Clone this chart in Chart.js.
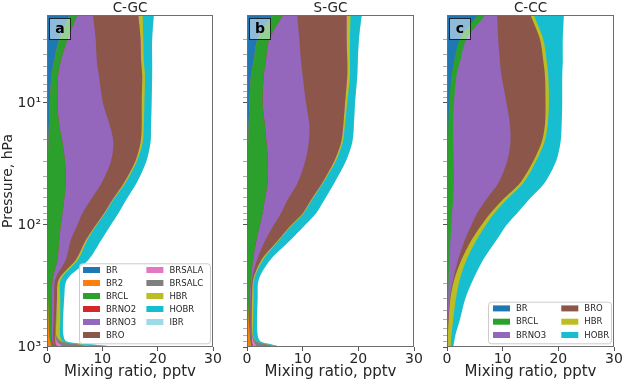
<!DOCTYPE html>
<html>
<head>
<meta charset="utf-8">
<script src="https://cdn.jsdelivr.net/npm/chart.js@4.4.1/dist/chart.umd.min.js"></script>
<style>
  body { margin: 0; background: #fff; }
  #wrap { position: relative; width: 623px; height: 381px; }
  canvas { position: absolute; top: 0; }
</style>
</head>
<body>
<div id="wrap">
  <canvas id="panelA" width="224" height="381" style="left:0px"></canvas>
  <canvas id="panelB" width="200" height="381" style="left:224px"></canvas>
  <canvas id="panelC" width="199" height="381" style="left:424px"></canvas>
</div>
<script>
// pressure levels (hPa), shared by all panels
const levels = [1.9, 3, 4.5, 6, 10, 15, 21, 30, 45, 62, 80, 100, 133, 193, 280, 400, 600, 800, 900, 950, 1000];

const speciesGC = ["BR", "BR2", "BRCL", "BRNO2", "BRNO3", "BRO", "BRSALA", "BRSALC", "HBR", "HOBR", "IBR"];
const speciesCC = ["BR", "BRCL", "BRNO3", "BRO", "HBR", "HOBR"];

const colors = {
  BR: "#1f77b4", BR2: "#ff7f0e", BRCL: "#2ca02c", BRNO2: "#d62728", BRNO3: "#9467bd",
  BRO: "#8c564b", BRSALA: "#e377c2", BRSALC: "#7f7f7f", HBR: "#bcbd22", HOBR: "#17becf", IBR: "#9edae5"
};

// panel a : C-GC (pptv)
const brA     = [4.1, 2.2, 1.3, 0.8, 0.5, 0.35, 0.25, 0.15, 0.1, 0.05, 0.03, 0.02, 0, 0, 0, 0, 0, 0, 0, 0, 0];
const br2A    = [0, 0, 0, 0, 0, 0, 0, 0, 0, 0, 0, 0, 0, 0, 0.1, 0.2, 0.3, 0.4, 0.6, 0.7, 0.8];
const brclA   = [1.4, 1.5, 1.2, 1.2, 1.4, 1.85, 2.55, 3.1, 3.3, 3.05, 2.77, 2.48, 2.2, 1.9, 0.9, 0.7, 0.5, 0.4, 0.3, 0.3, 0.5];
const brno2A  = [0, 0, 0, 0, 0, 0, 0, 0, 0, 0, 0, 0, 0, 0, 0, 0, 0, 0, 0.1, 0.1, 0.2];
const brno3A  = [2.8, 5.1, 6.5, 7.4, 8.2, 9.1, 9.2, 8.3, 6.5, 4.8, 3.6, 3.0, 2.1, 1.5, 0.5, 0.4, 0.4, 0.3, 0.2, 0.2, 0.2];
const broA    = [8.2, 8.1, 8.0, 7.8, 7.0, 5.8, 4.9, 4.4, 4.0, 3.9, 3.9, 3.3, 2.7, 1.8, 0.6, 0.5, 0.4, 0.4, 0.3, 0.3, 0.3];
const brsalaA = [0, 0, 0, 0, 0, 0, 0, 0, 0, 0, 0, 0, 0, 0, 0, 0, 0, 0.05, 0.3, 0.8, 0.8];
const brsalcA = [0, 0, 0, 0, 0, 0, 0, 0, 0, 0, 0, 0, 0, 0, 0, 0, 0.1, 0.1, 0.8, 3.1, 5.2];
const hbrA    = [0.8, 0.5, 0.5, 0.5, 0.5, 0.4, 0.4, 0.3, 0.3, 0.2, 0.2, 0.2, 0.3, 0.4, 0.4, 0.6, 0.7, 0.7, 0.3, 0.5, 0.6];
const hobrA   = [2.0, 1.6, 1.5, 1.3, 1.3, 1.3, 1.4, 1.7, 2.0, 2.3, 2.4, 2.5, 2.5, 1.9, 1.1, 0.7, 0.5, 0.6, 0.6, 2.0, 3.7];
const ibrA    = [0, 0, 0, 0, 0, 0, 0, 0, 0, 0, 0, 0, 0, 0, 0, 0, 0, 0, 0.1, 0.2, 0.3];

// panel b : S-GC
const brB     = [4.6, 1.9, 1.2, 0.7, 0.45, 0.3, 0.2, 0.15, 0.1, 0.05, 0.03, 0.02, 0, 0, 0, 0, 0, 0, 0, 0, 0];
const br2B    = [0, 0, 0, 0, 0, 0, 0, 0, 0, 0, 0, 0, 0, 0, 0, 0.15, 0.3, 0.5, 0.6, 0.7, 0.8];
const brclB   = [1.9, 2.1, 2.2, 2.3, 2.35, 2.9, 3.3, 3.6, 3.6, 3.15, 2.77, 2.3, 1.7, 1.1, 0.7, 0.35, 0.2, 0.1, 0.1, 0.1, 0.1];
const brno2B  = [0, 0, 0, 0, 0, 0, 0, 0, 0, 0, 0, 0, 0, 0, 0, 0, 0, 0, 0.05, 0.05, 0.1];
const brno3B  = [2.5, 5.4, 6.3, 7.0, 7.8, 8.0, 7.6, 6.7, 5.4, 4.1, 3.3, 2.5, 1.6, 0.7, 0.2, 0.2, 0.1, 0.1, 0.05, 0.05, 0.05];
const broB    = [8.9, 8.5, 8.3, 8.0, 7.0, 6.1, 5.8, 5.2, 4.4, 4.2, 3.9, 3.1, 2.3, 0.8, 0.2, 0.2, 0.2, 0.15, 0.1, 0.1, 0.1];
const brsalaB = [0, 0, 0, 0, 0, 0, 0, 0, 0, 0, 0, 0, 0, 0, 0, 0, 0, 0.05, 0.3, 0.5, 0.7];
const brsalcB = [0, 0, 0, 0, 0, 0, 0, 0, 0, 0, 0, 0, 0, 0, 0, 0, 0.05, 0.1, 0.5, 2.0, 3.45];
const hbrB    = [0.7, 0.6, 0.5, 0.5, 0.4, 0.3, 0.3, 0.3, 0.2, 0.2, 0.2, 0.2, 0.2, 0.3, 0.2, 0.3, 0.25, 0.1, 0.1, 0.2, 0.2];
const hobrB   = [2.0, 1.6, 1.4, 1.3, 1.4, 1.6, 1.7, 1.8, 2.0, 2.2, 2.2, 2.3, 2.0, 1.3, 0.8, 0.7, 0.7, 0.8, 0.6, 0.6, 0.5];
const ibrB    = [0, 0, 0, 0, 0, 0, 0, 0, 0, 0, 0, 0, 0, 0, 0, 0, 0, 0, 0.05, 0.1, 0.1];

// panel c : C-CC
const brC     = [5.5, 2.3, 1.3, 0.8, 0.4, 0.25, 0.15, 0.1, 0.05, 0.03, 0.02, 0.01, 0, 0, 0, 0, 0, 0, 0, 0, 0];
const brclC   = [1.4, 1.2, 1.1, 0.9, 0.85, 0.85, 0.95, 1.1, 1.2, 1.07, 0.88, 0.79, 0.6, 0.45, 0.3, 0.2, 0.1, 0.05, 0.03, 0.02, 0.02];
const brno3C  = [2.1, 5.7, 7.1, 8.1, 9.45, 10.2, 10.3, 9.6, 8.0, 5.9, 4.5, 3.6, 2.6, 1.55, 0.8, 0.3, 0.1, 0.05, 0.02, 0.02, 0.02];
const broC    = [6.0, 7.5, 7.8, 7.8, 7.0, 6.3, 5.6, 4.7, 3.9, 3.0, 2.4, 1.8, 1.2, 0.6, 0.2, 0.1, 0.1, 0.05, 0.03, 0.02, 0.02];
const hbrC    = [0.6, 0.6, 0.6, 0.6, 0.6, 0.5, 0.5, 0.5, 0.6, 0.7, 0.7, 0.8, 0.9, 0.9, 1.0, 1.0, 0.8, 0.65, 0.62, 0.64, 0.59];
const hobrC   = [5.4, 3.5, 2.9, 2.5, 2.4, 2.5, 2.9, 3.6, 3.8, 4.0, 4.1, 3.7, 3.6, 3.0, 2.4, 1.7, 1.2, 0.7, 0.6, 0.5, 0.55];

const xTicks = [0, 10, 20, 30];

Chart.defaults.font.family = '"DejaVu Sans", sans-serif';
Chart.defaults.color = "#262626";

// running sums -> one filled line per species, each filled down to x = 0;
// outer ones are drawn first so inner ones sit on top
function stackDatasets(names, series) {
  let run = levels.map(() => 0);
  return names.map((name, k) => {
    run = run.map((v, i) => v + series[k][i]);
    return {
      label: name,
      data: levels.map((p, i) => ({ x: run[i], y: p })),
      backgroundColor: colors[name],
      borderColor: "rgba(0,0,0,0)",
      borderWidth: 0,
      pointRadius: 0,
      fill: "origin",
      tension: 0.3
    };
  });
}

function isDecade(v) {
  const e = Math.round(Math.log10(v));
  return Math.abs(v - Math.pow(10, e)) < 1e-6 * v;
}
const sup = { 0: "\u2070", 1: "\u00b9", 2: "\u00b2", 3: "\u00b3" };

// frame, title, letter box and the in-axes legend
const decor = {
  id: "decor",
  afterDraw(chart, args, opts) {
    const { ctx, chartArea: a } = chart;
    ctx.save();
    ctx.strokeStyle = "#6e6e6e";
    ctx.lineWidth = 1;
    ctx.strokeRect(Math.round(a.left) + 0.5, Math.round(a.top) + 0.5, Math.round(a.right - a.left) - 1, Math.round(a.bottom - a.top) - 1);

    ctx.fillStyle = "#262626";
    ctx.font = '13.5px "DejaVu Sans"';
    ctx.textAlign = "center";
    ctx.textBaseline = "alphabetic";
    ctx.fillText(opts.title, (a.left + a.right) / 2, 12);

    // letter box
    const bx = a.left + 2.5, by = a.top + 3.5;
    ctx.fillStyle = "rgba(255,255,255,0.5)";
    ctx.fillRect(bx, by, 21, 21);
    ctx.strokeStyle = "rgba(0,0,0,0.75)";
    ctx.strokeRect(bx, by, 21, 21);
    ctx.fillStyle = "#000";
    ctx.font = 'bold 14px "DejaVu Sans"';
    ctx.textBaseline = "middle";
    ctx.fillText(opts.letter, bx + 10.5, by + 10.5);

    // legend
    const lg = opts.legend;
    if (lg.cols.length) {
      const rows = Math.max(...lg.cols.map(c => c.length));
      const h = 6.7 + (rows - 1) * lg.rowH + 8.3;
      const right = a.right - 3, bottom = a.bottom - 3.7;
      const left = right - lg.width, top = bottom - h;
      ctx.beginPath();
      if (ctx.roundRect) ctx.roundRect(left + 0.5, top + 0.5, lg.width, h, 3);
      else ctx.rect(left + 0.5, top + 0.5, lg.width, h);
      ctx.fillStyle = "rgba(255,255,255,0.8)";
      ctx.fill();
      ctx.strokeStyle = "#cccccc";
      ctx.stroke();
      ctx.font = '8.5px "DejaVu Sans"';
      ctx.textAlign = "left";
      ctx.textBaseline = "middle";
      const ds = chart.data.datasets;
      lg.cols.forEach((col, ci) => {
        col.forEach((di, ri) => {
          const x = left + lg.colX[ci];
          const y = top + 6.7 + ri * lg.rowH;
          ctx.fillStyle = ds[di].backgroundColor;
          ctx.fillRect(x, y - 3, 17, 6);
          ctx.fillStyle = "#262626";
          ctx.fillText(ds[di].label, x + 23, y + 0.5);
        });
      });
    }
    ctx.restore();
  }
};

function makePanel(id, names, series, cfg) {
  return new Chart(document.getElementById(id), {
    type: "line",
    data: { datasets: stackDatasets(names, series) },
    options: {
      responsive: false,
      animation: false,
      indexAxis: "y",
      events: [],
      layout: { padding: { top: 15, right: cfg.padRight, left: 0, bottom: 0 } },
      plugins: {
        legend: { display: false },
        tooltip: { enabled: false },
        decor: { title: cfg.title, letter: cfg.letter, legend: cfg.legend }
      },
      scales: {
        x: {
          type: "linear",
          min: xTicks[0],
          max: xTicks[xTicks.length - 1],
          afterBuildTicks: s => { s.ticks = xTicks.map(v => ({ value: v })); },
          afterFit: s => { s.height = 34; },
          border: { display: false },
          grid: { drawOnChartArea: false, drawTicks: true, tickLength: 4, tickColor: "#555" },
          ticks: { font: { size: 14 }, padding: 0, maxRotation: 0 },
          title: { display: true, text: "Mixing ratio, pptv", font: { size: 15 }, padding: 0 }
        },
        y: {
          type: "logarithmic",
          min: levels[0],
          max: levels[levels.length - 1],
          reverse: true,
          afterBuildTicks: s => {
            s.ticks = s.ticks.filter(t => {
              const e = Math.floor(Math.log10(t.value) + 1e-9);
              const m = t.value / Math.pow(10, e);
              return Math.abs(m - Math.round(m)) < 1e-6;
            });
          },
          afterFit: s => { s.width = cfg.yWidth; },
          border: { display: false },
          grid: {
            drawOnChartArea: false, drawTicks: true, tickLength: 4,
            tickColor: c => (c.tick && isDecade(c.tick.value)) ? "#555" : "#8a8a8a",
            tickWidth: c => (c.tick && isDecade(c.tick.value)) ? 1 : 0.7
          },
          ticks: {
            autoSkip: false,
            font: { size: 14 },
            padding: 2,
            callback: v => (cfg.yLabels && isDecade(v)) ? "10" + sup[Math.round(Math.log10(v))] : ""
          },
          title: { display: cfg.yLabels, text: "Pressure, hPa", font: { size: 14 }, padding: 0 }
        }
      }
    },
    plugins: [decor]
  });
}

makePanel("panelA", speciesGC,
  [brA, br2A, brclA, brno2A, brno3A, broA, brsalaA, brsalcA, hbrA, hobrA, ibrA],
  { title: "C-GC", letter: "a", padRight: 11, yWidth: 47, yLabels: true,
    legend: { cols: [[0, 1, 2, 3, 4, 5], [6, 7, 8, 9, 10]], colX: [4, 67.4], width: 131, rowH: 13 } });

makePanel("panelB", speciesGC,
  [brB, br2B, brclB, brno2B, brno3B, broB, brsalaB, brsalcB, hbrB, hobrB, ibrB],
  { title: "S-GC", letter: "b", padRight: 10, yWidth: 23, yLabels: false,
    legend: { cols: [], colX: [], width: 0, rowH: 13 } });

makePanel("panelC", speciesCC,
  [brC, brclC, brno3C, broC, hbrC, hobrC],
  { title: "C-CC", letter: "c", padRight: 9, yWidth: 23, yLabels: false,
    legend: { cols: [[0, 1, 2], [3, 4, 5]], colX: [5, 73.3], width: 123, rowH: 13.3 } });
</script>
</body>
</html>
